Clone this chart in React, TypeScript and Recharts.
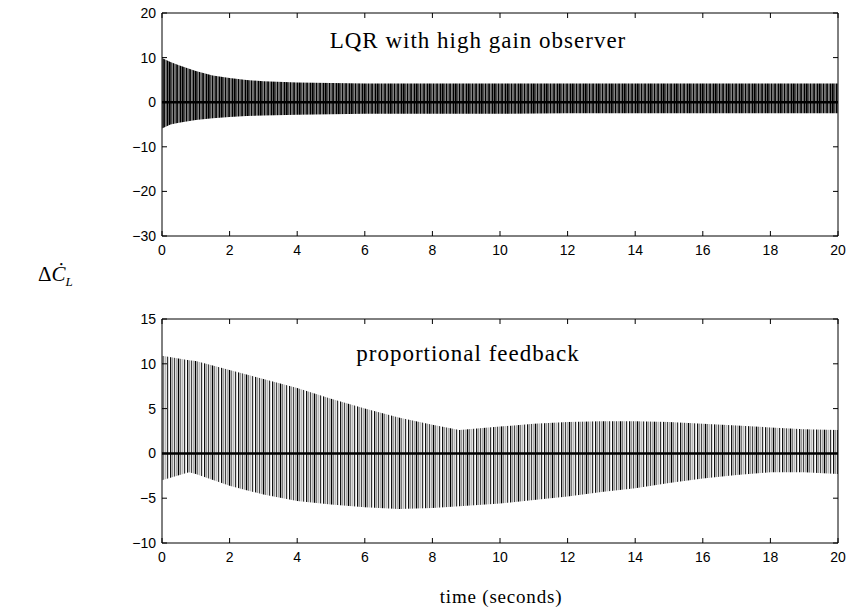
import { ComposedChart, Area, XAxis, YAxis, ReferenceLine } from "recharts";

// time samples and envelope of the oscillation
const lqrTime = [0, 0.25, 0.5, 1, 1.5, 2, 2.5, 3, 4, 6, 8, 10, 12, 14, 16, 18, 20];
const lqrUpper = [9.9, 9, 8.3, 7, 6, 5.4, 5, 4.7, 4.4, 4.2, 4.2, 4.2, 4.2, 4.2, 4.2, 4.2, 4.2];
const lqrLower = [-5.9, -5, -4.6, -4, -3.6, -3.3, -3.1, -3, -2.8, -2.6, -2.6, -2.6, -2.5, -2.5, -2.5, -2.5, -2.5];

const propTime = [0, 0.8, 1, 2, 3, 4, 5, 6, 7, 8, 8.8, 10, 11, 12, 13, 14, 15, 16, 17, 18, 19, 20];
const propUpper = [10.9, 10.4, 10.3, 9.3, 8.3, 7.3, 6.1, 5.0, 4.0, 3.2, 2.6, 3.0, 3.3, 3.5, 3.6, 3.6, 3.5, 3.3, 3.1, 2.9, 2.7, 2.6];
const propLower = [-3.0, -2.1, -2.3, -3.6, -4.6, -5.3, -5.7, -6.0, -6.2, -6.1, -5.9, -5.6, -5.2, -4.8, -4.3, -3.9, -3.3, -2.8, -2.4, -2.1, -2.1, -2.3];

const xTicks = [0, 2, 4, 6, 8, 10, 12, 14, 16, 18, 20];
const lqrTicks = [20, 10, 0, -10, -20, -30];
const propTicks = [15, 10, 5, 0, -5, -10];

const lqrData = lqrTime.map((t, i) => ({ t, band: [lqrLower[i], lqrUpper[i]] }));
const propData = propTime.map((t, i) => ({ t, band: [propLower[i], propUpper[i]] }));

const sans = "'Liberation Sans', Arial, sans-serif";
const serif = "'Liberation Serif', 'Times New Roman', serif";
const fmt = (v: number) => (v < 0 ? "\u2212" + Math.abs(v) : String(v));

const PLOT_LEFT = 162;
const PLOT_RIGHT = 838;

// ticks point inwards, and are repeated on the top / right edge of the box
const BottomTick = ({ x, y, payload, top }: any) => (
  <g>
    <line x1={x} x2={x} y1={y} y2={y - 5} stroke="#000" />
    <line x1={x} x2={x} y1={top} y2={top + 5} stroke="#000" />
    <text x={x} y={y + 19} textAnchor="middle" fontSize={14} fontFamily={sans} fill="#000">
      {payload.value}
    </text>
  </g>
);
const LeftTick = ({ x, y, payload }: any) => (
  <g>
    <line x1={x} x2={x + 5} y1={y} y2={y} stroke="#000" />
    <line x1={PLOT_RIGHT - 5} x2={PLOT_RIGHT} y1={y} y2={y} stroke="#000" />
    <text x={x - 6} y={y + 5} textAnchor="end" fontSize={14} fontFamily={sans} fill="#000">
      {fmt(payload.value)}
    </text>
  </g>
);

function Panel({ data, ticks, domain, fill, height, margin, title, titleX, titleY }: any) {
  return (
    <ComposedChart width={848} height={height} data={data} margin={margin} style={{ overflow: "visible" }}>
      <XAxis
        dataKey="t"
        type="number"
        domain={[0, 20]}
        ticks={xTicks}
        height={25}
        tickSize={0}
        tickMargin={0}
        tick={<BottomTick top={margin.top} />}
        axisLine={{ stroke: "#000" }}
        tickLine={false}
      />
      <YAxis
        type="number"
        domain={domain}
        ticks={ticks}
        width={40}
        tickSize={0}
        tickMargin={0}
        tick={<LeftTick />}
        axisLine={{ stroke: "#000" }}
        tickLine={false}
      />
      <Area
        type="linear"
        dataKey="band"
        stroke="none"
        fill={fill}
        fillOpacity={1}
        isAnimationActive={false}
      />
      <ReferenceLine y={0} stroke="#000" strokeWidth={2.5} />
      <ReferenceLine y={domain[1]} stroke="#000" strokeWidth={1} />
      <ReferenceLine x={20} stroke="#000" strokeWidth={1} />
      <text x={titleX} y={titleY} textAnchor="middle" fontSize={23} letterSpacing={1} fontFamily={serif} fill="#000">
        {title}
      </text>
    </ComposedChart>
  );
}

export default function App() {
  return (
    <div style={{ position: "relative", width: 848, height: 613, background: "#fff", overflow: "hidden" }}>
      <style>{"body{margin:0;overflow:hidden}"}</style>
      <svg width={0} height={0} style={{ position: "absolute" }}>
        <defs>
          <pattern id="stripesDark" width={13} height={20} patternUnits="userSpaceOnUse">
            <rect x={0} y={0} width={1.8} height={20} fill="#000" />
            <rect x={2.2} y={0} width={1.3} height={20} fill="#222" />
            <rect x={3.9} y={0} width={1.6} height={20} fill="#000" />
            <rect x={5.8} y={0} width={1} height={20} fill="#444" />
            <rect x={7.1} y={0} width={2} height={20} fill="#111" />
            <rect x={9.5} y={0} width={1.2} height={20} fill="#222" />
            <rect x={11} y={0} width={1.6} height={20} fill="#000" />
          </pattern>
          <pattern id="stripesGray" width={17} height={20} patternUnits="userSpaceOnUse">
            <rect x={0} y={0} width={1.3} height={20} fill="#111" />
            <rect x={1.9} y={0} width={1.4} height={20} fill="#999" />
            <rect x={4} y={0} width={1} height={20} fill="#444" />
            <rect x={5.6} y={0} width={1.6} height={20} fill="#aaa" />
            <rect x={7.8} y={0} width={1.5} height={20} fill="#000" />
            <rect x={10} y={0} width={1.2} height={20} fill="#777" />
            <rect x={11.8} y={0} width={1.6} height={20} fill="#bbb" />
            <rect x={14} y={0} width={1.2} height={20} fill="#333" />
          </pattern>
        </defs>
      </svg>
      <div style={{ position: "absolute", left: 0, top: 0 }}>
        <Panel
          data={lqrData}
          ticks={lqrTicks}
          domain={[-30, 20]}
          fill="url(#stripesDark)"
          height={270}
          margin={{ top: 13, right: 848 - PLOT_RIGHT, left: PLOT_LEFT - 40, bottom: 9 }}
          title="LQR with high gain observer"
          titleX={478}
          titleY={48}
        />
      </div>
      <div style={{ position: "absolute", left: 0, top: 290 }}>
        <Panel
          data={propData}
          ticks={propTicks}
          domain={[-10, 15]}
          fill="url(#stripesGray)"
          height={280}
          margin={{ top: 29, right: 848 - PLOT_RIGHT, left: PLOT_LEFT - 40, bottom: 2 }}
          title="proportional feedback"
          titleX={468}
          titleY={71}
        />
      </div>
      <div
        style={{
          position: "absolute",
          left: 38,
          top: 262,
          fontFamily: serif,
          fontSize: 21,
          lineHeight: "24px",
          whiteSpace: "nowrap",
        }}
      >
        Δ<i>Ċ</i>
        <sub style={{ fontSize: 13 }}>
          <i>L</i>
        </sub>
      </div>
      <div
        style={{
          position: "absolute",
          left: 0,
          width: 1002,
          top: 586,
          textAlign: "center",
          fontFamily: serif,
          fontSize: 19,
          letterSpacing: 0.8,
          whiteSpace: "nowrap",
        }}
      >
        time (seconds)
      </div>
    </div>
  );
}
